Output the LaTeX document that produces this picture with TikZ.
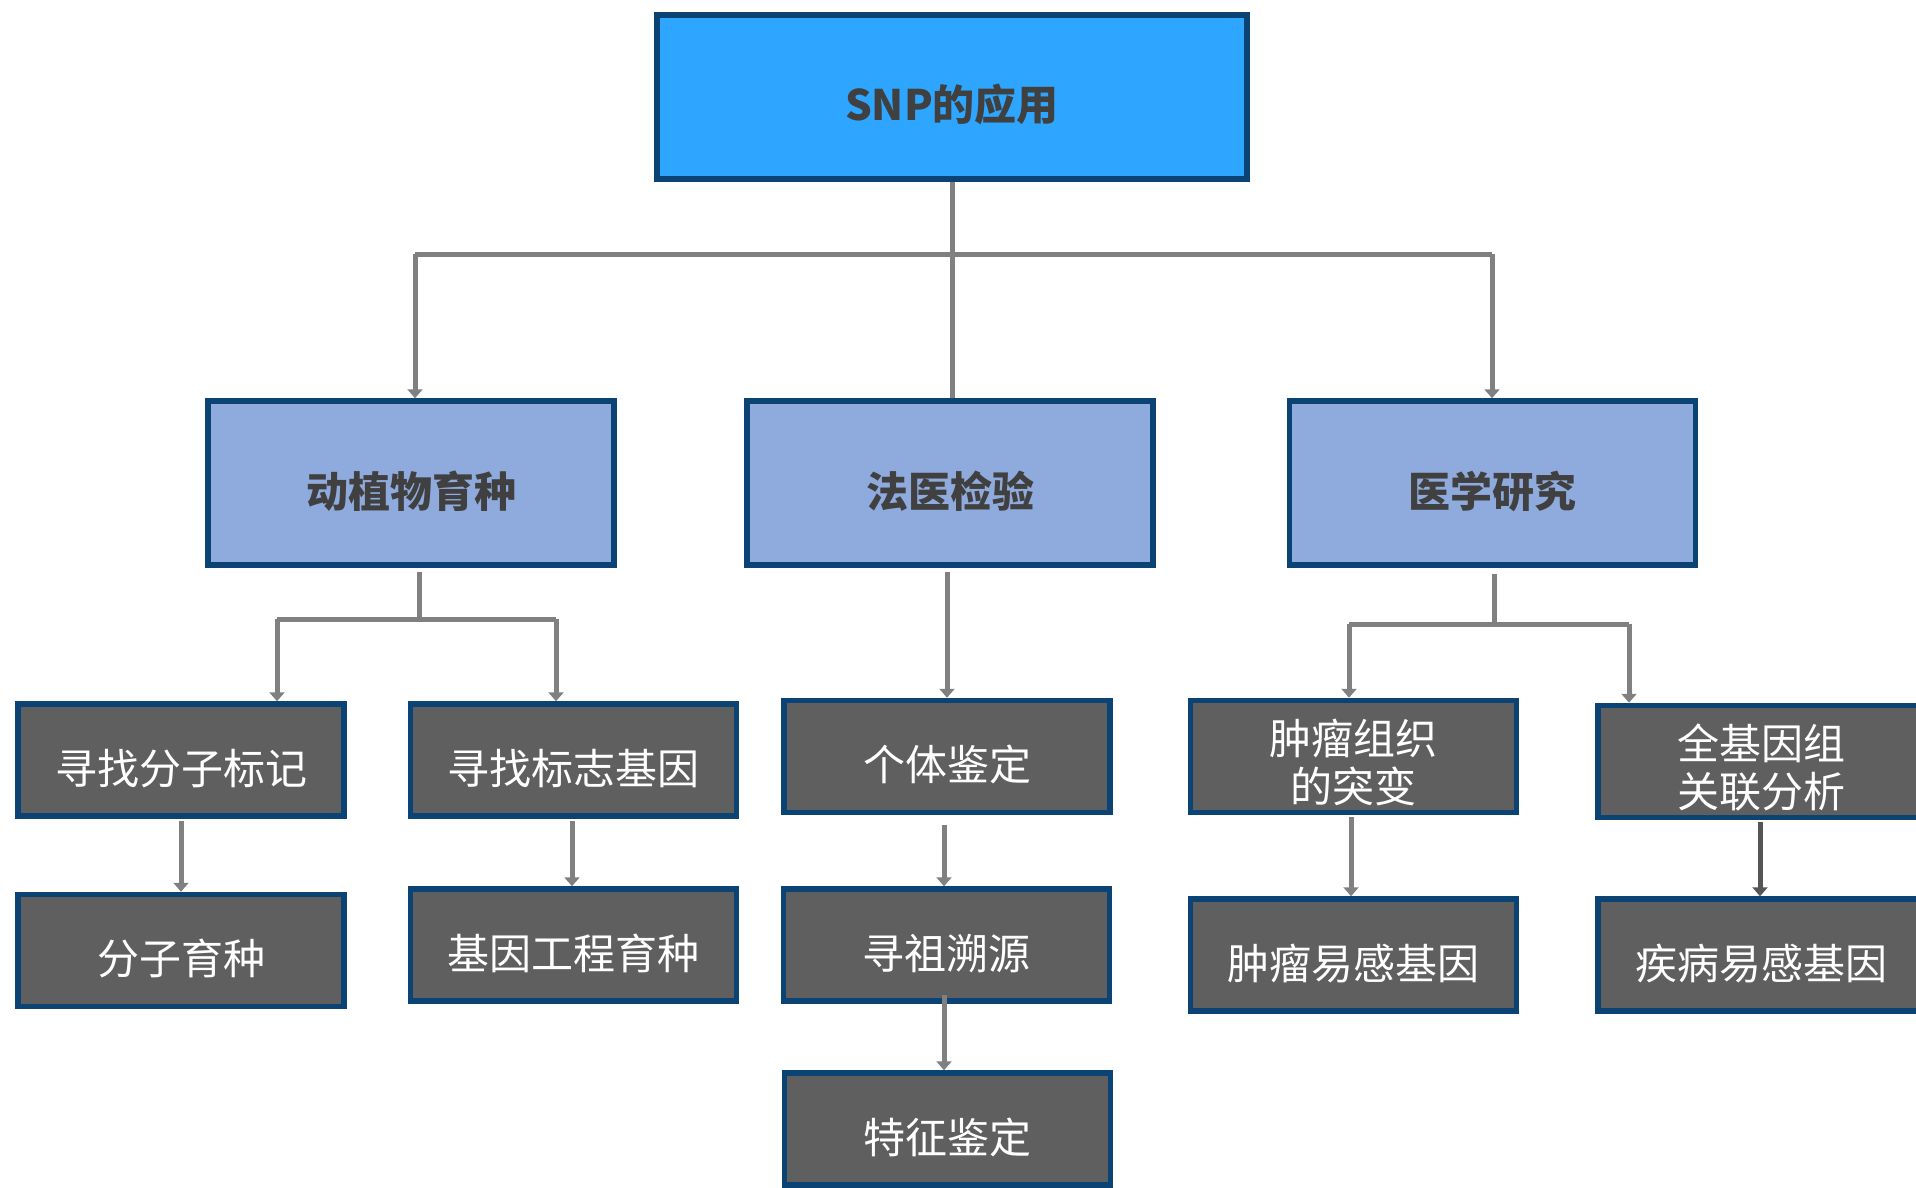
\documentclass[tikz,border=0pt]{standalone}
\usepackage{fontspec}
\setmainfont{Noto Sans CJK SC}
\usetikzlibrary{arrows.meta}
\definecolor{rootfill}{HTML}{2EA6FF}
\definecolor{midfill}{HTML}{8FAADC}
\definecolor{leaffill}{HTML}{5F5F5F}
\definecolor{edge}{HTML}{0B4374}
\definecolor{conncol}{HTML}{808080}
\definecolor{darkconn}{HTML}{555555}
\definecolor{labtext}{HTML}{404040}
\newcommand{\oneline}[1]{\rule[-10pt]{0pt}{68pt}#1}
\newcommand{\twolines}[2]{\rule{0pt}{54pt}#1\\#2\rule[-10pt]{0pt}{10pt}}
\tikzset{
  boxbase/.style={draw=edge, line width=5.5pt, inner sep=0pt, align=center},
  rootbox/.style={boxbase, fill=rootfill, minimum width=590pt, minimum height=164pt,
    font=\fontsize{42}{48}\selectfont\bfseries, text=labtext},
  midbox/.style={boxbase, fill=midfill, minimum width=406pt, minimum height=164pt,
    font=\fontsize{42}{48}\selectfont\bfseries, text=labtext},
  leafbox/.style={boxbase, fill=leaffill, minimum width=326pt, minimum height=112pt,
    font=\fontsize{42}{48}\selectfont, text=white},
  conn/.style={draw=conncol, line width=5pt},
  arr/.style={conn, -{Triangle[width=15pt,length=9pt]}},
}
\begin{document}
\begin{tikzpicture}[x=1pt, y=-1pt]
\useasboundingbox (0,0) rectangle (1916,1188);
\clip (0,0) rectangle (1916,1188);
% root and second level
\node[rootbox] (root) at (952,97) {\oneline{SNP的应用}};
\node[midbox] (breed) at (411,483) {\oneline{动植物育种}};
\node[midbox] (forensic) at (950,483) {\oneline{法医检验}};
\node[midbox] (medical) at (1492.5,483) {\oneline{医学研究}};
% leaves
\node[leafbox] (marker) at (181,760) {\oneline{寻找分子标记}};
\node[leafbox] (gene) at (573.5,760) {\oneline{寻找标志基因}};
\node[leafbox] (indiv) at (947,756.5) {\oneline{个体鉴定}};
\node[leafbox] (tumor) at (1353.5,756.5) {\twolines{肿瘤组织}{的突变}};
\node[leafbox] (gwas) at (1761,761.5) {\twolines{全基因组}{关联分析}};
\node[leafbox] (molbreed) at (181,950.5) {\oneline{分子育种}};
\node[leafbox] (genebreed) at (573.5,945) {\oneline{基因工程育种}};
\node[leafbox] (ancestry) at (946.5,945) {\oneline{寻祖溯源}};
\node[leafbox] (tumorgene) at (1353.5,955) {\oneline{肿瘤易感基因}};
\node[leafbox] (disease) at (1761,955) {\oneline{疾病易感基因}};
\node[leafbox] (trait) at (947.5,1129) {\oneline{特征鉴定}};
% top bus
\coordinate (busL) at (415,254);
\coordinate (busR) at (1492,254);
\draw[conn] (root.south) -- (root.south |- forensic.north);
\draw[conn] (busL) -- (busR);
\draw[arr] (busL) -- (busL |- breed.north);
\draw[arr] (busR) -- (busR |- medical.north);
% left group
\coordinate (lstubA) at (419,572);
\coordinate (lstubB) at (419,618);
\coordinate (lbusL) at (277,619);
\coordinate (lbusR) at (556,619);
\draw[conn] (lstubA) -- (lstubB);
\draw[conn] (lbusL) -- (lbusR);
\draw[arr] (lbusL) -- (lbusL |- marker.north);
\draw[arr] (lbusR) -- (lbusR |- gene.north);
\coordinate (mA) at (181,821);
\draw[arr] (mA) -- (mA |- molbreed.north);
\coordinate (gA) at (572,821);
\draw[arr] (gA) -- (gA |- genebreed.north);
% middle column
\coordinate (fA) at (947,572);
\draw[arr] (fA) -- (fA |- indiv.north);
\coordinate (iA) at (944,825);
\draw[arr] (iA) -- (iA |- ancestry.north);
\coordinate (aA) at (944,995);
\draw[arr] (aA) -- (aA |- trait.north);
% right group
\coordinate (rstubA) at (1494,574);
\coordinate (rstubB) at (1494,624);
\coordinate (rbusL) at (1349,624);
\coordinate (rbusR) at (1629,624);
\draw[conn] (rstubA) -- (rstubB);
\draw[conn] (rbusL) -- (rbusR);
\draw[arr] (rbusL) -- (rbusL |- tumor.north);
\draw[arr] (rbusR) -- (rbusR |- gwas.north);
\coordinate (tA) at (1351,817);
\draw[arr] (tA) -- (tA |- tumorgene.north);
\coordinate (wA) at (1760,822);
\draw[arr, draw=darkconn] (wA) -- (wA |- disease.north);
\end{tikzpicture}
\end{document}
